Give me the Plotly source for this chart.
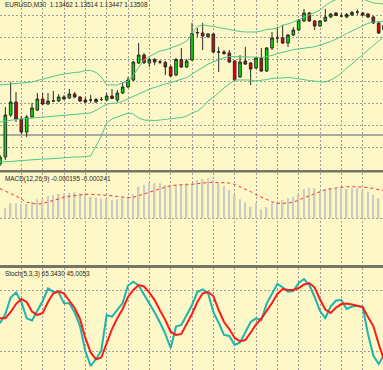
import plotly.graph_objects as go

# ---------------- data ----------------
bar_index = list(range(73))

price_open = [1.1212, 1.1219, 1.1261, 1.1274, 1.1257, 1.1244, 1.1259, 1.1266, 1.1277, 1.1272,
              1.1275, 1.1275, 1.1279, 1.1278, 1.1282, 1.1279, 1.1276, 1.1276, 1.1274, 1.12765,
              1.1276, 1.1280, 1.1276, 1.1283, 1.1289, 1.1296, 1.1313, 1.1321, 1.1313, 1.13165,
              1.1314, 1.13135, 1.1309, 1.1301, 1.13165, 1.1309, 1.1316, 1.1343, 1.1343, 1.13395,
              1.1342, 1.1324, 1.1324, 1.1323, 1.1315, 1.1299, 1.1315, 1.1313, 1.1308, 1.1318,
              1.1305, 1.1328, 1.1338, 1.1338, 1.1333, 1.1341, 1.1346, 1.1355, 1.1363, 1.1355,
              1.1350, 1.1355, 1.1359, 1.1363, 1.1360, 1.1359, 1.1361, 1.1364, 1.1363, 1.1362,
              1.1359, 1.1353, 1.13462]
price_high = [1.1221, 1.1269, 1.1294, 1.1284, 1.1260, 1.1261, 1.1273, 1.1283, 1.1283, 1.1283,
              1.1285, 1.1282, 1.1281, 1.1287, 1.1284, 1.1280, 1.1279, 1.1281, 1.1278, 1.1279,
              1.1283, 1.1287, 1.1286, 1.1294, 1.1299, 1.1315, 1.1333, 1.1323, 1.1318, 1.1318,
              1.1316, 1.1315, 1.1311, 1.1318, 1.1328, 1.1317, 1.1353, 1.1348, 1.1353, 1.1343,
              1.1343, 1.1329, 1.1326, 1.1326, 1.1316, 1.1321, 1.1329, 1.1314, 1.1319, 1.1328,
              1.1329, 1.1344, 1.1349, 1.1351, 1.1342, 1.1349, 1.1357, 1.1367, 1.1364, 1.1356,
              1.1356, 1.1367, 1.1363, 1.1364, 1.1363, 1.1363, 1.1365, 1.13665, 1.1364, 1.1363,
              1.1360, 1.1354, 1.13514]
price_low = [1.1210, 1.1216, 1.1259, 1.1254, 1.1242, 1.1239, 1.1258, 1.1265, 1.1271, 1.1271,
             1.1274, 1.1274, 1.1276, 1.1277, 1.1278, 1.1274, 1.1273, 1.1273, 1.1273, 1.1275,
             1.1275, 1.1277, 1.1274, 1.1282, 1.1288, 1.1295, 1.1312, 1.1312, 1.1309, 1.1311,
             1.1312, 1.1301, 1.1299, 1.1300, 1.1308, 1.1308, 1.1315, 1.1339, 1.1326, 1.1338,
             1.1323, 1.1304, 1.1321, 1.1313, 1.1295, 1.1298, 1.1311, 1.1291, 1.1307, 1.1304,
             1.1304, 1.1326, 1.1333, 1.1332, 1.1329, 1.1340, 1.1345, 1.1354, 1.1354, 1.1346,
             1.1349, 1.1354, 1.1358, 1.1360, 1.1359, 1.1358, 1.1360, 1.1361, 1.1360, 1.1358,
             1.1352, 1.1342, 1.13447]
price_close = [1.1219, 1.1261, 1.1274, 1.1257, 1.1244, 1.1259, 1.1268, 1.1277, 1.1272, 1.1275,
               1.1275, 1.1279, 1.1277, 1.1282, 1.1279, 1.1275, 1.1274, 1.1276, 1.12765, 1.12765,
               1.1280, 1.12775, 1.1283, 1.1289, 1.1296, 1.1314, 1.1321, 1.13133, 1.13165, 1.1314,
               1.1314, 1.1309, 1.1300, 1.13165, 1.1309, 1.1315, 1.13425, 1.13435, 1.1340, 1.1342,
               1.1324, 1.1324, 1.13225, 1.1314, 1.1296, 1.1314, 1.1312, 1.1307, 1.1318, 1.1305,
               1.1328, 1.1338, 1.1338, 1.1333, 1.1341, 1.1346, 1.1356, 1.1363, 1.1355, 1.1350,
               1.1355, 1.1359, 1.1362, 1.13605, 1.1360, 1.13615, 1.13635, 1.1364, 1.1361, 1.1359,
               1.1353, 1.1343, 1.13508]

bb_upper = [1.1291, 1.12915, 1.1292, 1.12925, 1.1293, 1.12935, 1.1294, 1.12955, 1.1297, 1.12985,
            1.1300, 1.1301, 1.1302, 1.1303, 1.13035, 1.1304, 1.13055, 1.13055, 1.13035, 1.1299,
            1.1291, 1.1291, 1.1291, 1.1293, 1.1295, 1.1301, 1.1309, 1.1316, 1.13195, 1.1322,
            1.1325, 1.1326, 1.1328, 1.1330, 1.1332, 1.1335, 1.1342, 1.13495, 1.1351, 1.13505,
            1.13495, 1.13485, 1.13475, 1.1346, 1.1345, 1.13445, 1.1344, 1.1344, 1.1344, 1.1345,
            1.13465, 1.1347, 1.13475, 1.1351, 1.1352, 1.1354, 1.1356, 1.1359, 1.1361, 1.13635,
            1.1366, 1.13705, 1.1374, 1.1377, 1.1379, 1.1380, 1.1380, 1.1379, 1.1377, 1.13745,
            1.1373, 1.13725, 1.1372]
bb_middle = [1.1254, 1.1255, 1.1256, 1.12565, 1.1257, 1.12575, 1.1258, 1.12585, 1.1259, 1.12595,
             1.1260, 1.12605, 1.1261, 1.12615, 1.1262, 1.12625, 1.12628, 1.1263, 1.12658, 1.12688,
             1.12718, 1.12727, 1.12731, 1.12747, 1.12773, 1.12801, 1.12827, 1.12845, 1.12868, 1.12887,
             1.12907, 1.12922, 1.12933, 1.1295, 1.12965, 1.12985, 1.1302, 1.13053, 1.13085, 1.13118,
             1.1314, 1.13163, 1.13183, 1.13195, 1.13195, 1.13195, 1.13191, 1.13188, 1.13188, 1.13184,
             1.13191, 1.13205, 1.13224, 1.13233, 1.13249, 1.13264, 1.13271, 1.13281, 1.13288, 1.13292,
             1.13308, 1.13325, 1.13345, 1.13368, 1.1340, 1.13424, 1.1345, 1.13478, 1.1350, 1.13527,
             1.13539, 1.13542, 1.13548]
bb_lower = [1.1214, 1.1214, 1.12145, 1.1215, 1.12155, 1.1216, 1.1216, 1.12165, 1.1217, 1.1217,
            1.12175, 1.1218, 1.1218, 1.12185, 1.1219, 1.1219, 1.12195, 1.1220, 1.1230, 1.1240,
            1.1253, 1.1257, 1.1259, 1.1261, 1.1263, 1.1262, 1.1258, 1.1256, 1.12555, 1.12555,
            1.1256, 1.12565, 1.1257, 1.12575, 1.12585, 1.1260, 1.1263, 1.1265, 1.1269, 1.1275,
            1.1279, 1.1283, 1.1288, 1.1292, 1.1296, 1.1296, 1.1296, 1.1296, 1.1295, 1.12955,
            1.12965, 1.12975, 1.1298, 1.12985, 1.12985, 1.1298, 1.1297, 1.1296, 1.12955, 1.1295,
            1.1294, 1.1294, 1.1296, 1.1299, 1.1303, 1.1308, 1.1312, 1.1317, 1.1321, 1.1326,
            1.1331, 1.1335, 1.1339]
level_price = 1.1241
price_grid = [1.1207, 1.1229, 1.1251, 1.1273, 1.1295, 1.1317, 1.1339, 1.1361]

# MACD values in units of 1e-5
macd_hist_e5 = [None,
                10.0, 15.0, 15.0, 14.3, 14.3, 16.6, 19.0, 20.0, 22.3, 23.3,
                24.3, 25.0, 25.6, 26.0, 25.0, 24.0, 21.6, 20.6, 20.0, 20.0,
                18.3, 19.0, 20.0, 21.0, 24.0, 31.6, 33.3, 36.0, 35.0, 35.0,
                33.3, 32.6, 33.3, 33.3, 34.0, 35.0, 38.3, 39.3, 40.0, 38.3,
                35.0, 32.6, 28.3, 23.3, 19.0, 16.0, 11.6, 15.0, 9.0, 11.0,
                15.0, 16.6, 18.3, 20.0, 21.6, 23.3, 29.3, 30.6, 30.0, 27.3,
                29.3, 30.6, 29.3, 30.0, 29.3, 30.0, 30.0, 28.3, 26.6, 23.3, 20.0,
                None]
macd_signal_e5 = [29.6, 27.3, 25.0, 22.3, 19.3, 16.0, 15.1, 14.1, 14.8, 16.3,
                  18.3, 19.8, 21.0, 22.0, 22.7, 23.3, 23.9, 24.0, 23.8, 23.3,
                  23.3, 22.6, 21.9, 21.3, 20.7, 21.0, 22.8, 24.3, 25.9, 27.6,
                  29.3, 31.1, 32.7, 33.3, 33.6, 34.0, 34.0, 34.7, 35.3, 35.8,
                  36.0, 36.0, 35.9, 35.3, 33.8, 31.7, 29.0, 26.7, 23.7, 21.3,
                  18.3, 16.5, 15.0, 15.0, 15.1, 16.3, 18.0, 20.6, 22.6, 24.3,
                  26.6, 28.5, 29.5, 30.4, 31.3, 31.6, 31.6, 31.6, 31.3, 30.8,
                  29.9, 28.8, 27.7]

stoch_main = [47.7, 56.7, 72.8, 77.6, 68.4, 52.5, 50.4, 60.1, 69.4, 81.5,
              78.4, 77.6, 67.1, 67.1, 58.2, 45.0, 20.7, 6.1, 12.9, 21.2,
              55.7, 54.1, 61.1, 67.4, 84.4, 88.1, 84.4, 75.7, 67.9, 58.2,
              48.4, 37.3, 23.6, 44.4, 46.0, 55.7, 65.5, 78.1, 80.7, 77.1,
              58.7, 48.0, 36.3, 35.3, 26.6, 29.0, 38.2, 48.9, 52.5, 50.9,
              66.9, 77.1, 85.9, 82.7, 78.4, 79.1, 86.9, 90.8, 84.9, 73.3,
              59.6, 52.8, 64.0, 69.8, 70.3, 61.6, 64.0, 64.8, 63.5, 37.3,
              16.3, 8.1, 16.8]
stoch_signal = [52.5, 52.5, 58.7, 66.4, 71.3, 68.4, 59.0, 55.7, 57.7, 68.4,
                76.9, 78.8, 76.7, 69.4, 62.6, 51.9, 33.4, 19.3, 12.5, 14.4,
                28.2, 42.1, 52.8, 61.6, 73.3, 80.1, 84.9, 83.5, 77.6, 70.3,
                60.1, 50.9, 39.2, 36.3, 37.3, 47.0, 56.7, 68.4, 76.9, 78.1,
                74.2, 60.6, 48.9, 42.1, 33.4, 30.2, 31.4, 38.7, 46.5, 52.3,
                59.6, 67.4, 76.2, 81.0, 80.1, 80.1, 82.0, 85.4, 86.9, 82.5,
                70.8, 61.1, 57.7, 63.0, 66.4, 66.9, 66.0, 65.0, 63.5, 53.8,
                45.0, 27.5, 12.0]
stoch_levels = [20, 80]

title_main = "EURUSD,M30  1.13462 1.13514 1.13447 1.13508"
title_macd = "MACD(12,26,9) -0.000195 -0.000241"
title_stoch = "Stoch(5,3,3) 65.3430 45.0053"

# ---------------- styling ----------------
W, H = 383, 370
BG = "#FEF8C8"
GRID = "#9E9E96"
BAND = "#4CC98C"
FONT = "Liberation Sans"

macd_hist = [None if v is None else v * 1e-5 for v in macd_hist_e5]
macd_signal = [v * 1e-5 for v in macd_signal_e5]

fig = go.Figure()

fig.add_trace(go.Scatter(x=bar_index, y=bb_upper, mode="lines",
                         line=dict(color=BAND, width=1), xaxis="x", yaxis="y"))
fig.add_trace(go.Scatter(x=bar_index, y=bb_middle, mode="lines",
                         line=dict(color=BAND, width=1), xaxis="x", yaxis="y"))
fig.add_trace(go.Scatter(x=bar_index, y=bb_lower, mode="lines",
                         line=dict(color=BAND, width=1), xaxis="x", yaxis="y"))

fig.add_trace(go.Candlestick(
    x=bar_index, open=price_open, high=price_high, low=price_low, close=price_close,
    increasing=dict(fillcolor="#00E400", line=dict(color="#2A2A2A", width=1)),
    decreasing=dict(fillcolor="#E80000", line=dict(color="#2A2A2A", width=1)),
    whiskerwidth=0, xaxis="x", yaxis="y"))

fig.add_trace(go.Bar(x=bar_index, y=macd_hist, width=0.28, marker=dict(color="#CBCBBE", line=dict(width=0)),
                     xaxis="x2", yaxis="y2"))
fig.add_trace(go.Scatter(x=bar_index, y=macd_signal, mode="lines",
                         line=dict(color="#FF2A2A", width=1, dash="dot"), xaxis="x2", yaxis="y2"))

fig.add_trace(go.Scatter(x=bar_index, y=stoch_main, mode="lines",
                         line=dict(color="#1CB4AE", width=2), xaxis="x3", yaxis="y3"))
fig.add_trace(go.Scatter(x=bar_index, y=stoch_signal, mode="lines",
                         line=dict(color="#FF1A1A", width=2), xaxis="x3", yaxis="y3"))

xr = [0, (W) / 5.3333]
grid_x = list(range(4, 72, 4))
common_x = dict(range=xr, showticklabels=False, ticks="", zeroline=False, showline=False,
                showgrid=True, gridcolor=GRID, griddash="2px,2px", gridwidth=1,
                tickvals=grid_x, fixedrange=True)
common_y = dict(showticklabels=False, ticks="", zeroline=False, showline=False,
                showgrid=True, gridcolor=GRID, griddash="2px,2px", gridwidth=1, fixedrange=True)

def dom(top_px, bot_px):
    return [1 - bot_px / H, 1 - top_px / H]

fig.update_layout(
    width=W, height=H, margin=dict(l=0, r=0, t=0, b=0),
    paper_bgcolor=BG, plot_bgcolor=BG, showlegend=False, hovermode=False,
    boxgap=0.3,
    xaxis=dict(common_x, anchor="y", rangeslider=dict(visible=False)),
    xaxis2=dict(common_x, anchor="y2"),
    xaxis3=dict(common_x, anchor="y3"),
    yaxis=dict(common_y, domain=dom(0, 170), range=[1.1206, 1.1376], tickvals=price_grid),
    yaxis2=dict(common_y, domain=dom(172.5, 265), range=[-46.7e-5, 45.8e-5], tickvals=[0]),
    yaxis3=dict(common_y, domain=dom(268, 370), range=[2.2, 101.5], tickvals=stoch_levels),
)

# horizontal level line in price window
fig.add_shape(type="line", xref="x", yref="y", x0=xr[0], x1=xr[1], y0=level_price, y1=level_price,
              line=dict(color="#ABABA2", width=2), layer="below")

# window separators
for top, bot in [(170, 172.5), (265, 268)]:
    fig.add_shape(type="rect", xref="paper", yref="paper", x0=0, x1=1,
                  y0=1 - bot / H, y1=1 - top / H, fillcolor="#747468", line=dict(width=0))

def label(text, ypx):
    fig.add_annotation(text=text, xref="paper", yref="paper", x=3 / W, y=1 - ypx / H,
                       xanchor="left", yanchor="middle", showarrow=False,
                       font=dict(family=FONT, size=6.4, color="#1E1E1E"))

label(title_main, 5)
label(title_macd, 179)
label(title_stoch, 274)

fig.write_html("out.html", config={"displayModeBar": False},
               post_script="document.body.style.margin='0';document.body.style.padding='0';"
                           "document.body.style.overflow='hidden';"
                           "document.body.style.background='" + BG + "';")
